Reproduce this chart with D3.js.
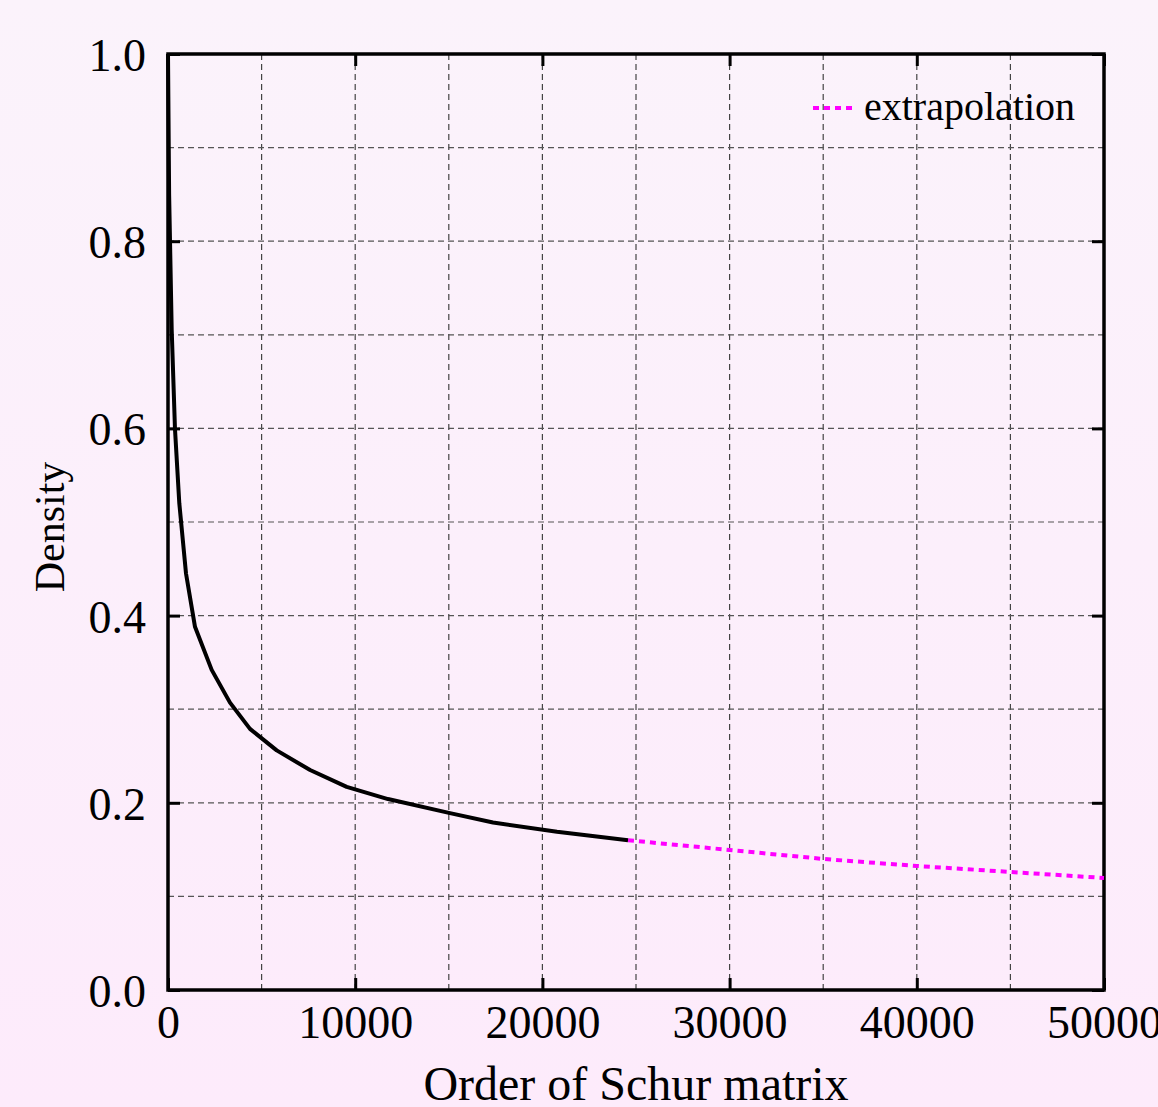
<html>
<head>
<script src="https://cdn.jsdelivr.net/npm/d3@7/dist/d3.min.js"></script>
<style>
body { margin: 0; overflow: hidden; }
text { font-family: "Liberation Serif", "DejaVu Serif", serif; fill: #000; }
</style>
</head>
<body>
<svg id="chart" width="1158" height="1107"></svg>
<script>
// measured density vs order of the Schur matrix
var orders  = [0, 60, 198, 374, 604, 962, 1442, 2334, 3312, 4380, 5807, 7590, 9546, 11752, 15064, 17362, 20780, 24573];
var density = [1.0, 0.85, 0.705, 0.599, 0.520, 0.445, 0.388, 0.342, 0.307, 0.279, 0.256, 0.235, 0.217, 0.204, 0.189, 0.179, 0.169, 0.160];
// extrapolated part
var extOrders  = [24573, 30000, 35000, 40000, 45000, 50000];
var extDensity = [0.160, 0.1496, 0.140, 0.1325, 0.1261, 0.1197];

var xTicks = [0, 10000, 20000, 30000, 40000, 50000];
var yTicks = [0.0, 0.2, 0.4, 0.6, 0.8, 1.0];
var xGrid = d3.range(5000, 50000, 5000);
var yGrid = d3.range(1, 10).map(function(i) { return i / 10; });

var svg = d3.select("#chart"),
    margin = {top: 54, right: 54, bottom: 117, left: 168},
    width = +svg.attr("width") - margin.left - margin.right,
    height = +svg.attr("height") - margin.top - margin.bottom;

// background
var grad = svg.append("defs").append("linearGradient")
    .attr("id", "bg").attr("x1", 0).attr("y1", 0).attr("x2", 0).attr("y2", 1);
grad.append("stop").attr("offset", "0%").attr("stop-color", "#fbf3fb");
grad.append("stop").attr("offset", "100%").attr("stop-color", "#fdebfb");
svg.append("rect").attr("width", 1158).attr("height", 1107).attr("fill", "url(#bg)");

var g = svg.append("g").attr("transform", "translate(" + margin.left + "," + margin.top + ")");

var x = d3.scaleLinear().domain([0, 50000]).range([0, width]);
var y = d3.scaleLinear().domain([0, 1]).range([height, 0]);

// grid
g.append("g").selectAll("line").data(xGrid).enter().append("line")
    .attr("x1", function(d) { return x(d); }).attr("x2", function(d) { return x(d); })
    .attr("y1", 0).attr("y2", height)
    .attr("stroke", "#444").attr("stroke-width", 1.2).attr("stroke-dasharray", "6,4");
g.append("g").selectAll("line").data(yGrid).enter().append("line")
    .attr("y1", function(d) { return y(d); }).attr("y2", function(d) { return y(d); })
    .attr("x1", 0).attr("x2", width)
    .attr("stroke", "#555").attr("stroke-width", 1.2).attr("stroke-dasharray", "6,4");

// axes (labels), ticks drawn inward
var xAxis = g.append("g").attr("transform", "translate(0," + height + ")")
    .call(d3.axisBottom(x).tickValues(xTicks).tickSize(-12).tickPadding(15).tickFormat(d3.format("d")));
var yAxis = g.append("g")
    .call(d3.axisLeft(y).tickValues(yTicks).tickSize(-12).tickPadding(22).tickFormat(d3.format(".1f")));
g.append("g").attr("transform", "translate(" + width + ",0)")
    .call(d3.axisRight(y).tickValues(yTicks).tickSize(-12).tickFormat(""));
g.append("g")
    .call(d3.axisTop(x).tickValues(xTicks).tickSize(-12).tickFormat(""));

g.selectAll(".domain").remove();
g.selectAll(".tick line").attr("stroke", "#000").attr("stroke-width", 3);
xAxis.selectAll("text").attr("font-size", 46).attr("dy", "0.71em").style("font-family", "Liberation Serif");
yAxis.selectAll("text").attr("font-size", 46).attr("dy", "0.36em").style("font-family", "Liberation Serif");

// border
g.append("rect").attr("width", width).attr("height", height)
    .attr("fill", "none").attr("stroke", "#000").attr("stroke-width", 3.5);

// curves
var line = d3.line()
    .x(function(d) { return x(d[0]); })
    .y(function(d) { return y(d[1]); });

g.append("path")
    .datum(d3.zip(extOrders, extDensity))
    .attr("d", line)
    .attr("fill", "none").attr("stroke", "#ff00ff").attr("stroke-width", 4)
    .attr("stroke-dasharray", "6,5");

g.append("path")
    .datum(d3.zip(orders, density))
    .attr("d", line)
    .attr("fill", "none").attr("stroke", "#000").attr("stroke-width", 4)
    .attr("stroke-linejoin", "round");

// legend
svg.append("line")
    .attr("x1", 813).attr("x2", 857).attr("y1", 108).attr("y2", 108)
    .attr("stroke", "#ff00ff").attr("stroke-width", 4).attr("stroke-dasharray", "6,5");
svg.append("text").attr("x", 864).attr("y", 120).attr("font-size", 40).text("extrapolation");

// axis titles
svg.append("text")
    .attr("x", margin.left + width / 2).attr("y", 1100)
    .attr("text-anchor", "middle").attr("font-size", 48)
    .text("Order of Schur matrix");
svg.append("text")
    .attr("transform", "translate(64," + (margin.top + height / 2 + 5) + ") rotate(-90)")
    .attr("text-anchor", "middle").attr("font-size", 42)
    .text("Density");
</script>
</body>
</html>
